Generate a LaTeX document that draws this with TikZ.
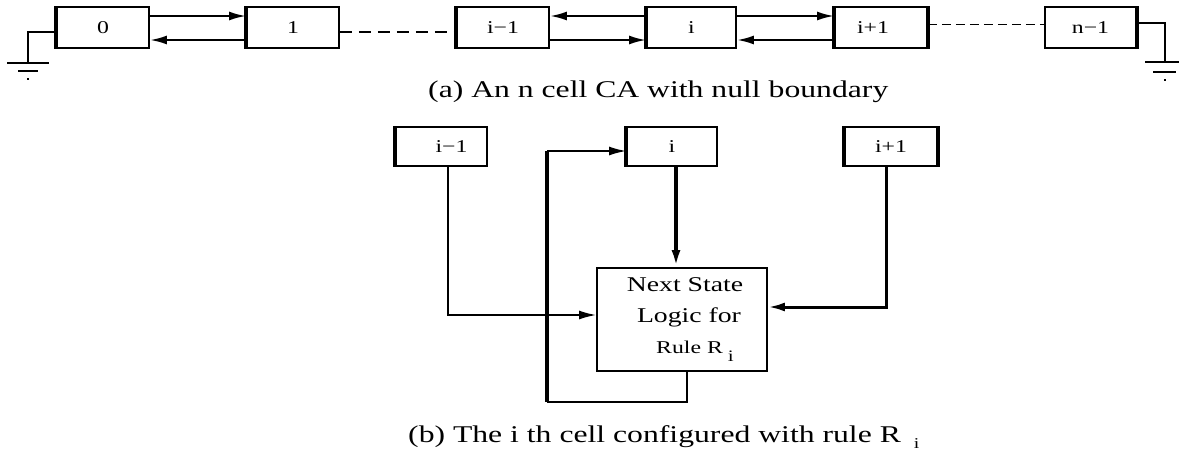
\documentclass[tikz,border=0pt]{standalone}
\usepackage{fontspec}
\setmainfont{Liberation Serif}
\newfontfamily\wide[FakeStretch=1.32]{Liberation Serif}
\usetikzlibrary{arrows.meta}
\tikzset{
  cell/.style={draw, line width=1.9pt, minimum height=41pt, inner sep=0pt,
    font=\wide\fontsize{18}{18}\selectfont},
  wire/.style={line width=2.2pt},
  thinwire/.style={line width=1.6pt},
  arr/.style={-{Latex[length=17pt,width=9pt]}},
  edge/.style={line width=4pt},
}
\begin{document}
\begin{tikzpicture}[x=1pt,y=-1pt]
\useasboundingbox (0,0) rectangle (1179,450);
% ---------- (a) ----------
\node[cell, minimum width=92pt] (b0)  at (103,27.5) {0};
\node[cell, minimum width=92pt] (b1)  at (293,27.5) {1};
\node[cell, minimum width=92pt] (bim) at (503,27.5) {i−1};
\node[cell, minimum width=89pt] (bi)  at (691.5,27.5) {i};
\node[cell, minimum width=92pt] (bip) at (881,27.5) {\hspace*{-16pt}i+1};
\node[cell, minimum width=91pt] (bn)  at (1090.5,27.5) {n−1};
\foreach \b in {b0,b1,bim,bi,bip}{\draw[edge] (\b.north west) -- (\b.south west);}
\draw[edge] (bip.north east) -- (bip.south east);
\draw[edge] (bn.north east) -- (bn.south east);

\draw[wire,arr] ([yshift=11.5pt]b0.east) -- ([yshift=11.5pt]b1.west);
\draw[wire,arr] ([yshift=-12.5pt]b1.west) -- ([yshift=-12.5pt]b0.east);
\draw[wire,arr] ([yshift=11.5pt]bi.west) -- ([yshift=11.5pt]bim.east);
\draw[wire,arr] ([yshift=-12.5pt]bim.east) -- ([yshift=-12.5pt]bi.west);
\draw[wire,arr] ([yshift=11.5pt]bi.east) -- ([yshift=11.5pt]bip.west);
\draw[wire,arr] ([yshift=-12.5pt]bip.west) -- ([yshift=-12.5pt]bi.east);

\draw[wire, dash pattern=on 12pt off 7pt] ([yshift=-4.5pt]b1.east) -- ([yshift=-4.5pt]bim.west);
\draw[line width=0.9pt, dash pattern=on 9pt off 5pt] ([yshift=3.5pt]bip.east) -- ([yshift=3.5pt]bn.west);

% grounds
\coordinate (gl) at (28,63);
\coordinate (gr) at (1165,62);
\draw[thinwire] ([yshift=-4.5pt]b0.west) -| (gl);
\draw[wire] (7,63) -- (49,63);
\draw[wire] (18,71) -- (38,71);
\draw[line width=1.8pt] (27,79) -- (29,79);
\draw[thinwire] ([yshift=4.5pt]bn.east) -| (gr);
\draw[wire] (1145,62) -- (1185,62);
\draw[wire] (1153,72) -- (1176,72);
\draw[line width=1.8pt] (1164,80) -- (1166,80);

\node[anchor=base west, inner sep=0pt, font=\wide\fontsize{24}{24}\selectfont] (capa) at (428,97)
  {(a) An n cell CA with null boundary};

% ---------- (b) ----------
\node[cell, minimum width=91pt, minimum height=39pt] (cim) at (441.5,146.5) {\hspace*{20pt}i−1};
\node[cell, minimum width=90pt, minimum height=39pt] (ci)  at (672,146.5) {i};
\node[cell, minimum width=92pt, minimum height=39pt] (cip) at (891,146.5) {i+1};
\foreach \b in {cim,ci,cip}{\draw[edge] (\b.north west) -- (\b.south west);}
\draw[edge] (cip.north east) -- (cip.south east);

\node[draw, line width=1.9pt, minimum width=170pt, minimum height=103pt, inner sep=0pt,
      align=center, font=\wide\fontsize{21}{31}\selectfont] (logic) at (682,319.5)
  {\hspace*{6pt}Next State\\\hspace*{14pt}Logic for\\
   \hspace*{26pt}{\fontsize{18}{31}\selectfont Rule R\hspace{5pt}\raisebox{-8pt}{\fontsize{16}{16}\selectfont i}}};

\draw[thinwire,arr] ([xshift=6.5pt]cim.south) |- ([yshift=4.5pt]logic.west);
\draw[line width=3.4pt,arr] ([xshift=4pt]ci.south) -- ([xshift=4pt]ci.south |- logic.north);
\draw[line width=3pt,arr] ([xshift=-5pt]cip.south) |- ([yshift=12.5pt]logic.east);

\coordinate (fb1) at (547,402);
\coordinate (fb2) at (547,151);
\draw[line width=2.2pt] ([xshift=5pt]logic.south) |- (fb1);
\draw[line width=3.6pt] (fb1) -- (fb2);
\draw[thinwire,arr] (fb2) -- ([yshift=-4.5pt]ci.west);

\node[anchor=base west, inner sep=0pt, font=\wide\fontsize{24}{24}\selectfont] (capb) at (408,442)
  {(b) The i th cell configured with rule R\hspace{13pt}\raisebox{-6pt}{\fontsize{15}{15}\selectfont i}};
\end{tikzpicture}
\end{document}
